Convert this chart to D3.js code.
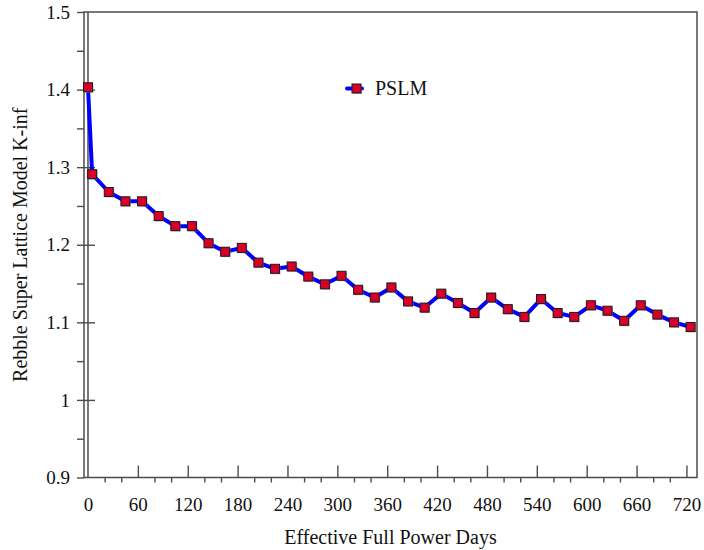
<!DOCTYPE html>
<html>
<head>
<meta charset="utf-8">
<script src="https://cdn.jsdelivr.net/npm/d3@7"></script>
<style>
  html, body { margin: 0; padding: 0; background: #fff; }
  svg, svg text { font-family: 'Liberation Serif', 'Times New Roman', Times, serif; }
</style>
</head>
<body>
<svg id="chart" width="704" height="550"></svg>
<script>
// Burnup days at each depletion step
const days = [0, 5, 25, 45, 65, 85, 105, 125, 145, 165, 185, 205, 225, 245, 265, 285,
  305, 325, 345, 365, 385, 405, 425, 445, 465, 485, 505, 525, 545, 565, 585, 605,
  625, 645, 665, 685, 705, 725];

// PSLM infinite multiplication factor at each step
const kinf = [1.403, 1.291, 1.268, 1.256, 1.256, 1.237, 1.224, 1.224, 1.202, 1.191,
  1.196, 1.177, 1.169, 1.172, 1.159, 1.149, 1.160, 1.142, 1.132, 1.145, 1.127, 1.119,
  1.137, 1.125, 1.112, 1.132, 1.117, 1.107, 1.130, 1.112, 1.107, 1.122, 1.115, 1.102,
  1.122, 1.110, 1.100, 1.094];

const seriesName = "PSLM";

const xMajorTicks = [0, 60, 120, 180, 240, 300, 360, 420, 480, 540, 600, 660, 720];
const xMinorTicks = [20, 40, 80, 100, 140, 160, 200, 220, 260, 280, 320, 340, 380, 400,
  440, 460, 500, 520, 560, 580, 620, 640, 680, 700];
const yMajorTicks = [0.9, 1.0, 1.1, 1.2, 1.3, 1.4, 1.5];
const yMinorTicks = [0.95, 1.05, 1.15, 1.25, 1.35, 1.45];

const xTitle = "Effective Full Power Days";
const yTitle = "Rebble Super Lattice Model K-inf";

const svg = d3.select("#chart");
const plot = { left: 84, right: 697, top: 12, bottom: 477.5 };
const serif = "'Liberation Serif', 'Times New Roman', Times, serif";

const x = d3.scaleLinear().domain([-4.8, 732.7]).range([plot.left, plot.right]);
const y = d3.scaleLinear().domain([0.9, 1.5]).range([plot.bottom, plot.top]);

const axisColor = "#4d4d4d";
const fontSize = 19;

function styleAxis(g, showText) {
  g.attr("font-family", null).attr("font-size", null);
  g.select(".domain").remove();
  g.selectAll(".tick line").attr("stroke", axisColor).attr("stroke-width", 1.4);
  if (!showText) g.selectAll(".tick text").remove();
  else g.selectAll(".tick text").attr("fill", "#111")
        .style("font-size", fontSize + "px").style("font-family", serif);
}

// y axis: minor ticks outside, major ticks crossing the axis
svg.append("g").attr("transform", `translate(${plot.left},0)`)
  .call(d3.axisLeft(y).tickValues(yMinorTicks).tickSize(7))
  .call(g => styleAxis(g, false));
svg.append("g").attr("transform", `translate(${plot.left},0)`)
  .call(d3.axisLeft(y).tickValues(yMajorTicks).tickSize(7))
  .call(g => styleAxis(g, false));
svg.append("g").attr("transform", `translate(${plot.left},0)`)
  .call(d3.axisRight(y).tickValues(yMajorTicks.filter(v => v > 0.9 && v < 1.5)).tickSize(11))
  .call(g => styleAxis(g, false));
svg.append("g").attr("transform", `translate(${plot.left},0)`)
  .call(d3.axisLeft(y).tickValues(yMajorTicks).tickSize(0).tickPadding(14)
        .tickFormat(d => String(+d.toFixed(2))))
  .call(g => styleAxis(g, true));

// x axis: minor ticks outside, major ticks inside
svg.append("g").attr("transform", `translate(0,${plot.bottom})`)
  .call(d3.axisBottom(x).tickValues(xMinorTicks).tickSize(5))
  .call(g => styleAxis(g, false));
svg.append("g").attr("transform", `translate(0,${plot.bottom})`)
  .call(d3.axisTop(x).tickValues(xMajorTicks.filter(v => v > 0)).tickSize(12))
  .call(g => styleAxis(g, false));
svg.append("g").attr("transform", `translate(0,${plot.bottom})`)
  .call(d3.axisBottom(x).tickValues(xMajorTicks).tickSize(0).tickPadding(20))
  .call(g => styleAxis(g, true));

// plot frame and zero-day line
svg.append("rect")
  .attr("x", plot.left).attr("y", plot.top)
  .attr("width", plot.right - plot.left).attr("height", plot.bottom - plot.top)
  .attr("fill", "none").attr("stroke", axisColor).attr("stroke-width", 1.5);
svg.append("line")
  .attr("x1", x(0)).attr("x2", x(0)).attr("y1", plot.top).attr("y2", plot.bottom)
  .attr("stroke", axisColor).attr("stroke-width", 1.5);

// data line
const pts = days.map((d, i) => [d, kinf[i]]);
svg.append("path")
  .datum(pts)
  .attr("fill", "none")
  .attr("stroke", "#0000ff")
  .attr("stroke-width", 4)
  .attr("stroke-linejoin", "round")
  .attr("stroke-linecap", "round")
  .attr("d", d3.line().x(d => x(d[0])).y(d => y(d[1])));

const ms = 9;
function marker(g, cx, cy) {
  g.append("rect").attr("x", cx - ms / 2 + 1).attr("y", cy - ms / 2 + 1)
    .attr("width", ms).attr("height", ms).attr("fill", "#8c8c8c").attr("opacity", 0.6);
  g.append("rect").attr("x", cx - ms / 2).attr("y", cy - ms / 2)
    .attr("width", ms).attr("height", ms)
    .attr("fill", "#d8002b").attr("stroke", "#1a1a1a").attr("stroke-width", 1);
}

const mg = svg.append("g");
pts.forEach(p => marker(mg, x(p[0]), y(p[1])));

// legend
const lg = svg.append("g");
lg.append("line").attr("x1", 347).attr("x2", 362).attr("y1", 88.5).attr("y2", 88.5)
  .attr("stroke", "#0000ff").attr("stroke-width", 4).attr("stroke-linecap", "round");
marker(lg, 356.5, 88.5);
lg.append("text").attr("x", 375).attr("y", 95)
  .style("font-size", "20px").style("font-family", serif).attr("fill", "#111").text(seriesName);

// axis titles
svg.append("text")
  .attr("x", (plot.left + plot.right) / 2).attr("y", 544)
  .attr("text-anchor", "middle").style("font-size", "20px").style("font-family", serif)
  .attr("fill", "#111")
  .text(xTitle);
svg.append("text")
  .attr("transform", `translate(27,${(plot.top + plot.bottom) / 2}) rotate(-90)`)
  .attr("text-anchor", "middle").style("font-size", "20px").style("font-family", serif)
  .attr("fill", "#111")
  .text(yTitle);
</script>
</body>
</html>
